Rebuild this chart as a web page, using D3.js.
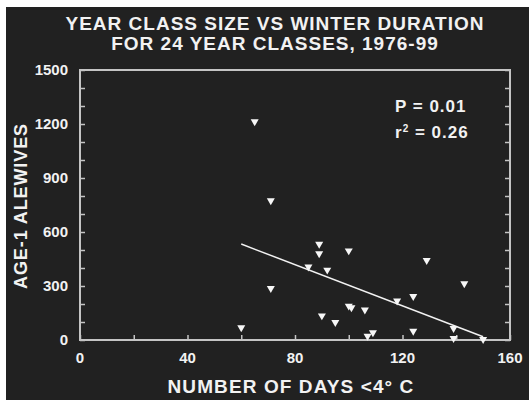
<!DOCTYPE html>
<html>
<head>
<meta charset="utf-8">
<script src="https://cdn.jsdelivr.net/npm/d3@7"></script>
<style>
html, body { margin: 0; padding: 0; background: #fff; }
svg { display: block; }
text { font-family: "Liberation Sans", Arial, sans-serif; font-weight: bold; fill: #f2f2f2; }
</style>
</head>
<body>
<svg id="chart" width="529" height="400"></svg>
<script>
/** data **/
var titleLines = ["YEAR CLASS SIZE VS WINTER DURATION", "FOR 24 YEAR CLASSES, 1976-99"];
var days = [65, 71, 60, 71, 89, 89, 85, 92, 100, 129, 143, 124, 118, 100, 101, 106, 90, 95, 109, 107, 124, 139, 139, 150];
var alewives = [1213, 775, 69, 287, 533, 480, 407, 389, 496, 443, 313, 243, 217, 189, 180, 167, 135, 98, 41, 22, 50, 65, 9, 4];
var fitX = [60, 150];
var fitY = [533, 18];
var xTicks = [0, 40, 80, 120, 160];
var yTicks = [0, 300, 600, 900, 1200, 1500];
var stats = ["P = 0.01", "= 0.26"];

var svg = d3.select("#chart");
var axisCol = "#c4c4c4";

// dark panel (white strip left/top like the scan)
svg.append("rect").attr("x", 6).attr("y", 7).attr("width", 523).attr("height", 393).attr("fill", "#212121");

var m = { left: 80, right: 510, top: 70, bottom: 340 };
var x = d3.scaleLinear().domain([0, 160]).range([m.left, m.right]);
var y = d3.scaleLinear().domain([0, 1500]).range([m.bottom, m.top]);

// title
svg.selectAll(".title").data(titleLines).enter()
	.append("text")
	.attr("class", "title")
	.attr("x", 275)
	.attr("y", function(d, i) { return 30 + i * 20; })
	.attr("text-anchor", "middle")
	.attr("font-size", "19px")
	.attr("letter-spacing", "1px")
	.text(function(d) { return d; });

// axes
var gx = svg.append("g").attr("transform", "translate(0," + m.bottom + ")")
	.call(d3.axisTop(x).tickValues(d3.range(0, 161, 20)).tickSize(5).tickFormat(""));
var gy = svg.append("g").attr("transform", "translate(" + m.left + ",0)")
	.call(d3.axisRight(y).tickValues(d3.range(0, 1501, 100)).tickSize(5).tickFormat(""));
var gr = svg.append("g").attr("transform", "translate(" + m.right + ",0)")
	.call(d3.axisLeft(y).tickValues(d3.range(0, 1501, 100)).tickSize(5).tickFormat(""));
[gx, gy, gr].forEach(function(g) {
	g.selectAll(".domain").remove();
	g.selectAll("line").attr("stroke", axisCol).attr("stroke-width", 1.5);
});
svg.append("rect")
	.attr("x", m.left).attr("y", m.top)
	.attr("width", m.right - m.left).attr("height", m.bottom - m.top)
	.attr("fill", "none").attr("stroke", axisCol).attr("stroke-width", 2);

// tick labels
svg.selectAll(".xl").data(xTicks).enter()
	.append("text")
	.attr("x", function(d) { return x(d); })
	.attr("y", 363)
	.attr("text-anchor", "middle")
	.attr("font-size", "15px")
	.text(function(d) { return d; });
svg.selectAll(".yl").data(yTicks).enter()
	.append("text")
	.attr("x", 68)
	.attr("y", function(d) { return y(d) + 5; })
	.attr("text-anchor", "end")
	.attr("font-size", "15px")
	.text(function(d) { return d; });

// axis titles
svg.append("text")
	.attr("x", 291).attr("y", 393)
	.attr("text-anchor", "middle")
	.attr("font-size", "19px")
	.attr("letter-spacing", "1.1px")
	.text("NUMBER OF DAYS <4\u00B0 C");
svg.append("text")
	.attr("transform", "translate(27,206) rotate(-90)")
	.attr("text-anchor", "middle")
	.attr("font-size", "18px")
	.attr("letter-spacing", "0.9px")
	.text("AGE-1 ALEWIVES");

// regression line
svg.append("line")
	.attr("x1", x(fitX[0])).attr("y1", y(fitY[0]))
	.attr("x2", x(fitX[1])).attr("y2", y(fitY[1]))
	.attr("stroke", "#f2f2f2").attr("stroke-width", 1.5);

// points
var tri = d3.symbol().type(d3.symbolTriangle).size(28);
svg.selectAll(".pt").data(days).enter()
	.append("path")
	.attr("d", tri)
	.attr("transform", function(d, i) { return "translate(" + x(d) + "," + y(alewives[i]) + ") rotate(180)"; })
	.attr("fill", "#f7f7f7");

// stats
svg.append("text").attr("x", 395).attr("y", 112).attr("font-size", "17px").attr("letter-spacing", "1px").text(stats[0]);
var r2 = svg.append("text").attr("x", 395).attr("y", 138).attr("font-size", "17px").attr("letter-spacing", "1px");
r2.append("tspan").text("r");
r2.append("tspan").attr("dy", -6).attr("font-size", "10px").text("2");
r2.append("tspan").attr("dy", 6).text(" " + stats[1]);
</script>
</body>
</html>
